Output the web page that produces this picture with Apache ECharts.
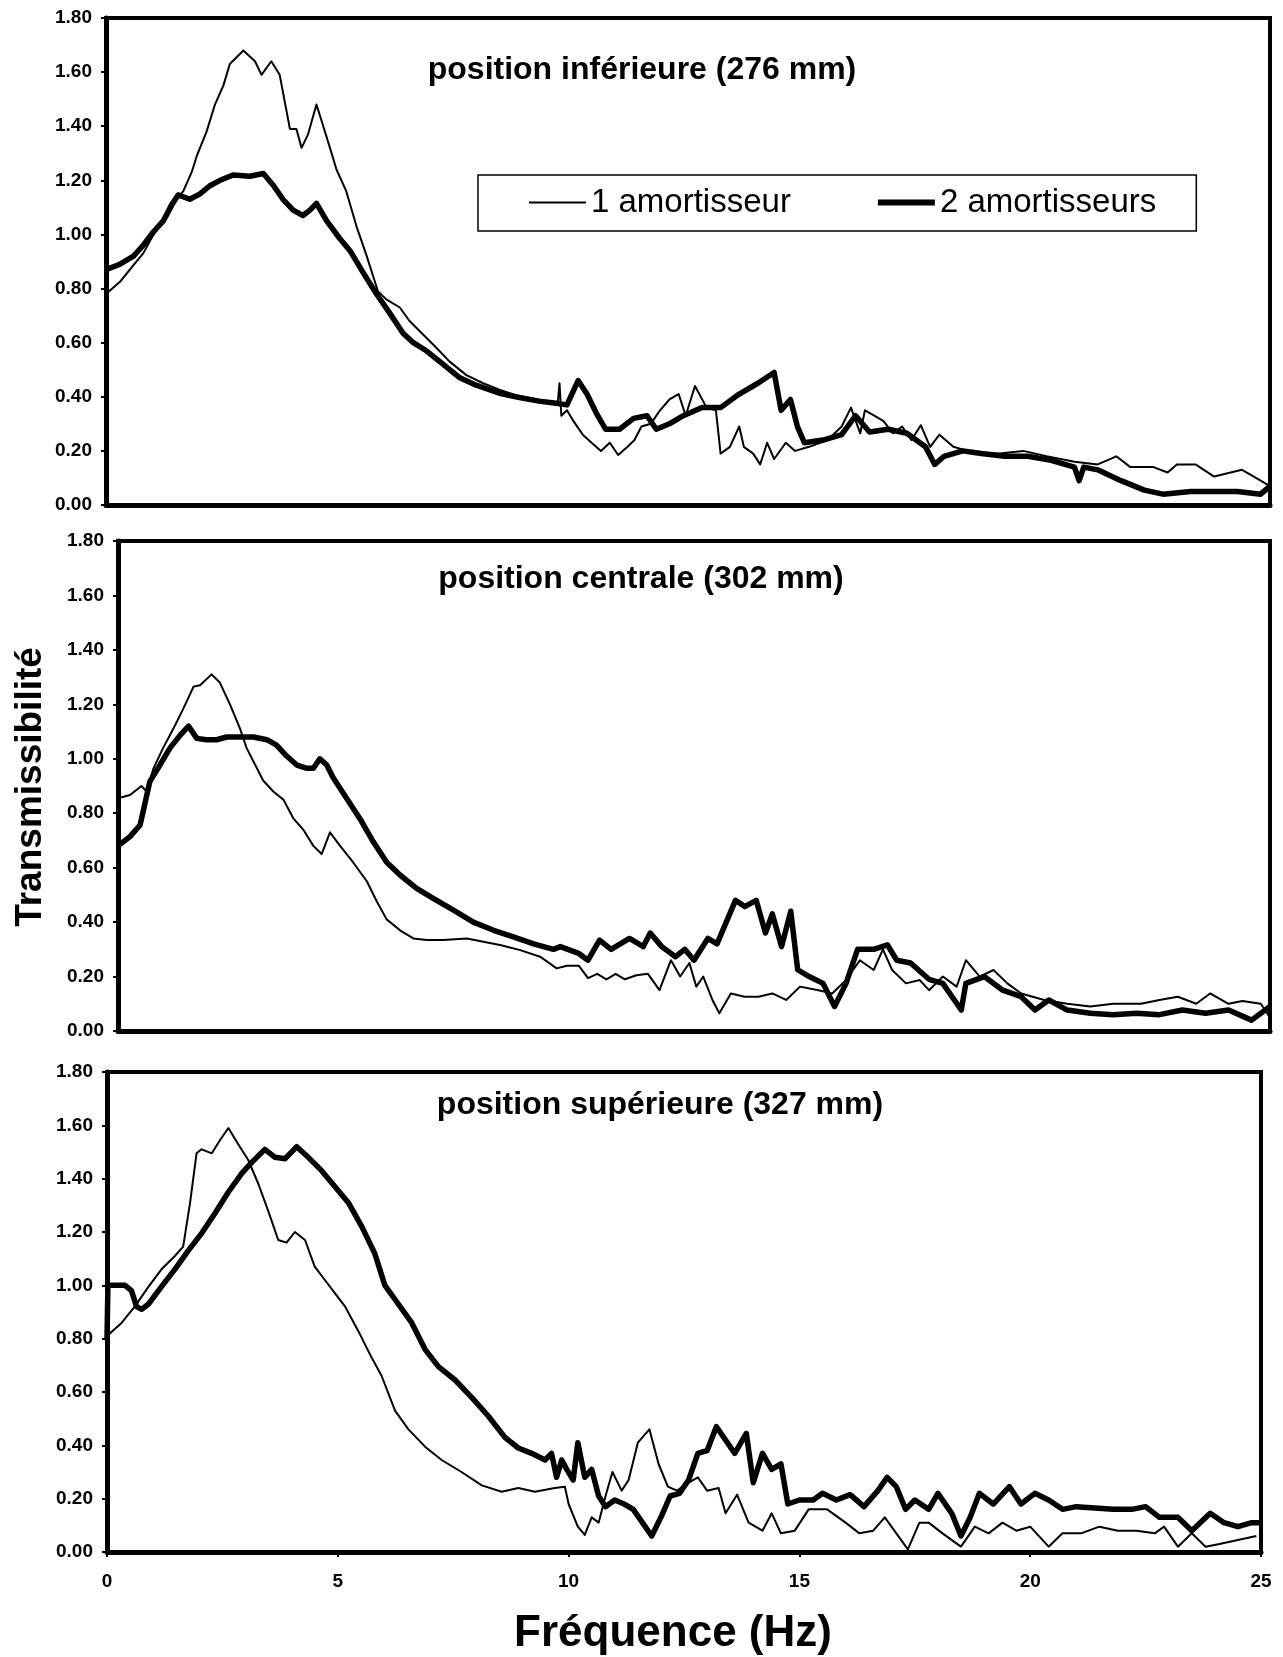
<!DOCTYPE html>
<html><head><meta charset="utf-8">
<script src="https://cdn.jsdelivr.net/npm/echarts@6/dist/echarts.min.js"></script>
<style>html,body{margin:0;padding:0;background:#fff}#c{width:1283px;height:1657px}</style>
</head><body><div id="c"></div>
<script>
const FONT = "'Liberation Sans', Arial, sans-serif";
const seriesNames = ['1 amortisseur', '2 amortisseurs'];
const panelTitles = ['position inférieure (276 mm)', 'position centrale (302 mm)', 'position supérieure (327 mm)'];
const xAxisTitle = 'Fréquence (Hz)';
const yAxisTitle = 'Transmissibilité';
const yMin = 0, yMax = 1.8, yStep = 0.2;
const xMin = 0, xMax = 25, xStep = 5;

// Panel 1 : position inférieure
const p1ThinF = [0,0.3,0.59,0.8,1.02,1.3,1.52,1.66,1.84,1.95,2.16,2.34,2.52,2.66,2.95,3.2,3.34,3.55,3.73,3.84,3.95,4.09,4.2,4.34,4.52,4.63,4.81,4.95,5.16,5.38,5.6,5.84,6.02,6.31,6.52,6.81,7.1,7.38,7.74,8.1,8.46,8.81,9.17,9.53,9.7,9.74,9.78,9.9,10.04,10.24,10.43,10.63,10.82,11.0,11.2,11.35,11.5,11.7,11.9,12.1,12.3,12.45,12.65,12.9,13.1,13.2,13.4,13.6,13.7,13.9,14.05,14.2,14.35,14.6,14.8,15.1,15.5,15.8,16.0,16.2,16.3,16.5,16.7,16.9,17.1,17.3,17.5,17.7,17.9,18.2,18.7,19.2,19.7,20.2,20.8,21.3,21.7,22.0,22.5,22.8,23.0,23.4,23.8,24.4,24.8,25];
const p1ThinV = [0.78,0.825,0.887,0.93,1.0,1.06,1.13,1.16,1.23,1.29,1.38,1.48,1.55,1.63,1.68,1.64,1.59,1.64,1.59,1.49,1.39,1.39,1.32,1.37,1.48,1.42,1.32,1.24,1.16,1.03,0.92,0.79,0.76,0.73,0.68,0.63,0.58,0.53,0.48,0.45,0.425,0.406,0.394,0.38,0.37,0.45,0.33,0.35,0.31,0.26,0.23,0.20,0.23,0.185,0.215,0.24,0.29,0.30,0.35,0.39,0.41,0.33,0.44,0.36,0.35,0.19,0.215,0.29,0.215,0.19,0.15,0.23,0.17,0.23,0.20,0.215,0.24,0.29,0.36,0.265,0.35,0.33,0.31,0.265,0.29,0.24,0.295,0.215,0.26,0.215,0.19,0.19,0.20,0.18,0.16,0.15,0.18,0.14,0.14,0.12,0.15,0.15,0.105,0.13,0.09,0.07];
const p1ThickF = [0,0.3,0.59,0.8,1.02,1.23,1.41,1.55,1.8,2.02,2.23,2.45,2.73,3.09,3.38,3.6,3.8,4.02,4.23,4.38,4.52,4.74,5.02,5.24,5.52,5.81,6.09,6.38,6.6,6.88,7.17,7.6,7.95,8.45,8.88,9.3,9.67,9.9,10.14,10.33,10.53,10.73,11.03,11.33,11.62,11.82,12.1,12.4,12.8,13.2,13.6,14.0,14.35,14.5,14.7,14.85,15.0,15.4,15.8,16.1,16.4,16.8,17.2,17.6,17.8,18.0,18.4,18.8,19.3,19.8,20.3,20.8,20.9,21.0,21.3,21.8,22.3,22.7,23.3,23.8,24.3,24.8,25];
const p1ThickV = [0.87,0.89,0.92,0.96,1.01,1.05,1.11,1.146,1.13,1.15,1.18,1.20,1.22,1.215,1.225,1.18,1.13,1.09,1.07,1.09,1.115,1.05,0.985,0.94,0.86,0.78,0.71,0.635,0.60,0.57,0.53,0.47,0.443,0.413,0.397,0.384,0.376,0.37,0.46,0.41,0.34,0.28,0.28,0.32,0.33,0.28,0.30,0.33,0.36,0.36,0.41,0.45,0.49,0.35,0.39,0.29,0.23,0.24,0.26,0.33,0.27,0.28,0.265,0.215,0.15,0.18,0.20,0.19,0.18,0.18,0.165,0.14,0.09,0.14,0.13,0.09,0.055,0.04,0.05,0.05,0.05,0.04,0.07];

// Panel 2 : position centrale
const p2ThinF = [0,0.26,0.51,0.62,0.77,0.98,1.2,1.42,1.64,1.78,2.03,2.21,2.43,2.65,2.79,2.94,3.15,3.37,3.59,3.81,4.02,4.24,4.42,4.6,4.82,5.1,5.4,5.62,5.83,6.12,6.41,6.7,7.06,7.57,7.93,8.29,8.73,9.16,9.52,9.74,10.0,10.2,10.4,10.6,10.8,11.0,11.25,11.5,11.75,12.0,12.2,12.4,12.55,12.7,12.9,13.05,13.3,13.6,13.9,14.2,14.5,14.8,15.2,15.5,15.8,16.1,16.4,16.6,16.8,17.1,17.4,17.6,17.9,18.2,18.4,18.7,19.0,19.3,19.6,20.1,20.6,21.1,21.6,22.2,22.6,23.0,23.4,23.7,24.1,24.4,24.8,25];
const p2ThinV = [0.855,0.867,0.90,0.88,0.965,1.04,1.11,1.185,1.265,1.27,1.31,1.28,1.20,1.11,1.04,0.99,0.92,0.88,0.85,0.78,0.74,0.68,0.65,0.73,0.68,0.62,0.55,0.475,0.41,0.37,0.34,0.334,0.334,0.34,0.328,0.316,0.297,0.273,0.23,0.24,0.24,0.194,0.21,0.19,0.21,0.19,0.205,0.21,0.15,0.26,0.20,0.25,0.163,0.20,0.114,0.065,0.138,0.126,0.126,0.138,0.114,0.163,0.15,0.138,0.187,0.26,0.224,0.30,0.224,0.175,0.187,0.15,0.20,0.163,0.26,0.20,0.224,0.175,0.138,0.114,0.10,0.09,0.10,0.10,0.114,0.126,0.10,0.138,0.10,0.11,0.10,0.05];
const p2ThickF = [0,0.26,0.48,0.59,0.69,0.91,1.13,1.35,1.53,1.71,1.92,2.14,2.36,2.65,2.94,3.23,3.44,3.66,3.88,4.1,4.24,4.38,4.53,4.67,4.96,5.25,5.54,5.83,6.12,6.48,6.84,7.28,7.71,8.15,8.58,9.02,9.45,9.6,10.0,10.2,10.45,10.7,11.1,11.4,11.55,11.8,12.1,12.3,12.5,12.8,13.0,13.2,13.4,13.6,13.85,14.05,14.2,14.4,14.6,14.75,15.0,15.3,15.55,15.8,16.05,16.4,16.7,16.9,17.2,17.6,17.9,18.3,18.4,18.8,19.2,19.6,19.9,20.2,20.6,21.1,21.6,22.1,22.6,23.1,23.6,24.1,24.6,25];
const p2ThickV = [0.68,0.714,0.757,0.84,0.916,0.977,1.04,1.087,1.12,1.075,1.07,1.07,1.08,1.08,1.08,1.07,1.05,1.01,0.977,0.965,0.965,1.0,0.977,0.93,0.855,0.78,0.695,0.62,0.573,0.524,0.487,0.444,0.40,0.37,0.346,0.32,0.30,0.31,0.285,0.26,0.334,0.30,0.34,0.31,0.36,0.31,0.273,0.30,0.26,0.34,0.32,0.40,0.48,0.457,0.48,0.36,0.43,0.31,0.44,0.225,0.20,0.175,0.09,0.175,0.30,0.30,0.316,0.26,0.25,0.19,0.175,0.077,0.175,0.20,0.15,0.126,0.077,0.114,0.077,0.065,0.06,0.065,0.06,0.077,0.065,0.077,0.04,0.09];

// Panel 3 : position supérieure
const p3ThinF = [0,0.32,0.6,0.9,1.18,1.47,1.65,1.8,1.94,2.05,2.27,2.45,2.63,2.84,3.06,3.28,3.49,3.71,3.89,4.07,4.29,4.5,4.72,4.94,5.16,5.44,5.73,5.95,6.24,6.53,6.89,7.25,7.68,8.12,8.55,8.91,9.27,9.7,9.92,10.0,10.2,10.35,10.5,10.65,10.8,10.95,11.15,11.3,11.5,11.75,11.95,12.15,12.35,12.6,12.8,13.0,13.25,13.4,13.65,13.9,14.2,14.4,14.6,14.9,15.2,15.6,16.0,16.3,16.6,16.85,17.1,17.35,17.6,17.8,18.1,18.5,18.8,19.1,19.4,19.7,20.0,20.4,20.7,21.1,21.5,21.9,22.3,22.7,22.9,23.2,23.5,23.8,24.1,24.5,24.9];
const p3ThinV = [0.81,0.86,0.92,0.995,1.06,1.11,1.145,1.31,1.495,1.51,1.495,1.545,1.59,1.53,1.47,1.38,1.28,1.17,1.16,1.20,1.17,1.07,1.02,0.97,0.92,0.83,0.73,0.66,0.53,0.46,0.395,0.345,0.30,0.25,0.226,0.24,0.226,0.24,0.245,0.18,0.095,0.064,0.13,0.11,0.21,0.30,0.23,0.27,0.41,0.46,0.33,0.245,0.23,0.26,0.28,0.23,0.24,0.145,0.215,0.11,0.08,0.145,0.07,0.08,0.16,0.16,0.11,0.07,0.08,0.13,0.07,0.01,0.11,0.11,0.07,0.02,0.095,0.07,0.11,0.08,0.095,0.02,0.07,0.07,0.095,0.08,0.08,0.07,0.095,0.02,0.07,0.02,0.03,0.045,0.06];
const p3ThickF = [0,0.02,0.39,0.53,0.64,0.75,0.9,1.18,1.47,1.76,2.05,2.34,2.63,2.92,3.13,3.42,3.64,3.86,4.11,4.36,4.65,4.94,5.23,5.52,5.8,6.02,6.31,6.6,6.89,7.18,7.54,7.9,8.26,8.62,8.91,9.2,9.49,9.63,9.74,9.85,9.96,10.1,10.2,10.35,10.5,10.65,10.8,11.0,11.2,11.4,11.6,11.8,12.0,12.2,12.4,12.6,12.8,13.0,13.2,13.4,13.6,13.85,14.0,14.2,14.4,14.6,14.75,15.0,15.3,15.5,15.8,16.1,16.4,16.7,16.9,17.1,17.3,17.5,17.8,18.0,18.3,18.5,18.7,18.9,19.2,19.55,19.8,20.1,20.4,20.7,21.0,21.4,21.8,22.2,22.5,22.8,23.2,23.5,23.9,24.2,24.5,24.8,25];
const p3ThickV = [0.8,1.0,1.0,0.98,0.92,0.91,0.93,0.995,1.06,1.13,1.195,1.27,1.35,1.42,1.46,1.51,1.48,1.475,1.52,1.48,1.43,1.37,1.31,1.22,1.12,1.0,0.93,0.86,0.76,0.695,0.645,0.58,0.51,0.43,0.39,0.37,0.345,0.37,0.28,0.345,0.31,0.27,0.41,0.28,0.31,0.21,0.17,0.195,0.18,0.16,0.11,0.06,0.13,0.21,0.22,0.27,0.37,0.38,0.47,0.42,0.37,0.445,0.26,0.37,0.31,0.33,0.18,0.195,0.195,0.22,0.195,0.215,0.17,0.23,0.28,0.245,0.16,0.195,0.16,0.22,0.145,0.06,0.13,0.22,0.18,0.245,0.18,0.22,0.195,0.16,0.17,0.165,0.16,0.16,0.17,0.13,0.13,0.08,0.145,0.11,0.095,0.11,0.11];

const zip = (f, v) => f.map((x, i) => [x, v[i]]);
const panels = [
  { thin: zip(p1ThinF, p1ThinV), thick: zip(p1ThickF, p1ThickV) },
  { thin: zip(p2ThinF, p2ThinV), thick: zip(p2ThickF, p2ThickV) },
  { thin: zip(p3ThinF, p3ThinV), thick: zip(p3ThickF, p3ThickV) }
];

const grids = [
  { left: 106, top: 18, width: 1164, height: 487 },
  { left: 118, top: 541, width: 1152, height: 490 },
  { left: 107, top: 1072, width: 1154, height: 480 }
];
const titlePos = [[642, 72], [641, 581], [660, 1107]];
const THIN = 2, THICK = 5.5;

const chart = echarts.init(document.getElementById('c'), null, { renderer: 'canvas' });

const option = {
  backgroundColor: '#fff',
  animation: false,
  textStyle: { fontFamily: FONT, color: '#000' },
  grid: grids.map(g => Object.assign({ show: true, borderColor: '#000', borderWidth: 4, backgroundColor: 'transparent', containLabel: false }, g)),
  xAxis: grids.map((g, i) => ({
    type: 'value', gridIndex: i, min: xMin, max: xMax, interval: xStep,
    axisLine: { show: true, onZero: false, lineStyle: { color: '#000', width: 5 } },
    axisTick: { show: i === 2, length: 5, lineStyle: { color: '#000', width: 2 } },
    axisLabel: { show: i === 2, margin: 20, fontSize: 19, fontWeight: 'bold', color: '#000', fontFamily: FONT },
    splitLine: { show: false }
  })),
  yAxis: grids.map((g, i) => ({
    type: 'value', gridIndex: i, min: yMin, max: yMax, interval: yStep,
    axisLine: { show: true, onZero: false, lineStyle: { color: '#000', width: 5 } },
    axisTick: { show: true, length: 5, lineStyle: { color: '#000', width: 2 } },
    axisLabel: { margin: 14, fontSize: 19, fontWeight: 'bold', color: '#000', fontFamily: FONT, formatter: v => v.toFixed(2) },
    splitLine: { show: false }
  })),
  title: panelTitles.map((t, i) => ({
    text: t, left: titlePos[i][0], top: titlePos[i][1] - 18, textAlign: 'center', padding: 0,
    textStyle: { fontSize: 32, fontWeight: 'bold', color: '#000', fontFamily: FONT }
  })),
  legend: {
    data: [
      { name: seriesNames[0], lineStyle: { width: THIN, color: '#000' } },
      { name: seriesNames[1], lineStyle: { width: 6, color: '#000' } }
    ],
    left: 478, top: 175, orient: 'horizontal',
    itemWidth: 57, itemHeight: 14, itemGap: 84,
    padding: [11, 40, 12, 50], borderColor: '#000', borderWidth: 1.5,
    selectedMode: false,
    itemStyle: { opacity: 0 },
    textStyle: { fontSize: 33, color: '#000', fontFamily: FONT }
  },
  graphic: [
    { type: 'text', x: 31, y: 787, rotation: Math.PI / 2,
      style: { text: yAxisTitle, font: 'bold 37px ' + FONT, fill: '#000', textAlign: 'center', textVerticalAlign: 'middle' } },
    { type: 'text', x: 673, y: 1634,
      style: { text: xAxisTitle, font: 'bold 44px ' + FONT, fill: '#000', textAlign: 'center', textVerticalAlign: 'middle' } }
  ],
  series: []
};

panels.forEach((p, i) => {
  option.series.push({
    name: seriesNames[1], type: 'line', xAxisIndex: i, yAxisIndex: i, data: p.thick,
    symbol: 'none', showSymbol: false, clip: true, z: 2,
    lineStyle: { color: '#000', width: THICK, join: 'round' }, itemStyle: { color: '#000' }
  });
  option.series.push({
    name: seriesNames[0], type: 'line', xAxisIndex: i, yAxisIndex: i, data: p.thin,
    symbol: 'none', showSymbol: false, clip: true, z: 3,
    lineStyle: { color: '#000', width: THIN, join: 'round' }, itemStyle: { color: '#000' }
  });
});

chart.setOption(option);
</script></body></html>
